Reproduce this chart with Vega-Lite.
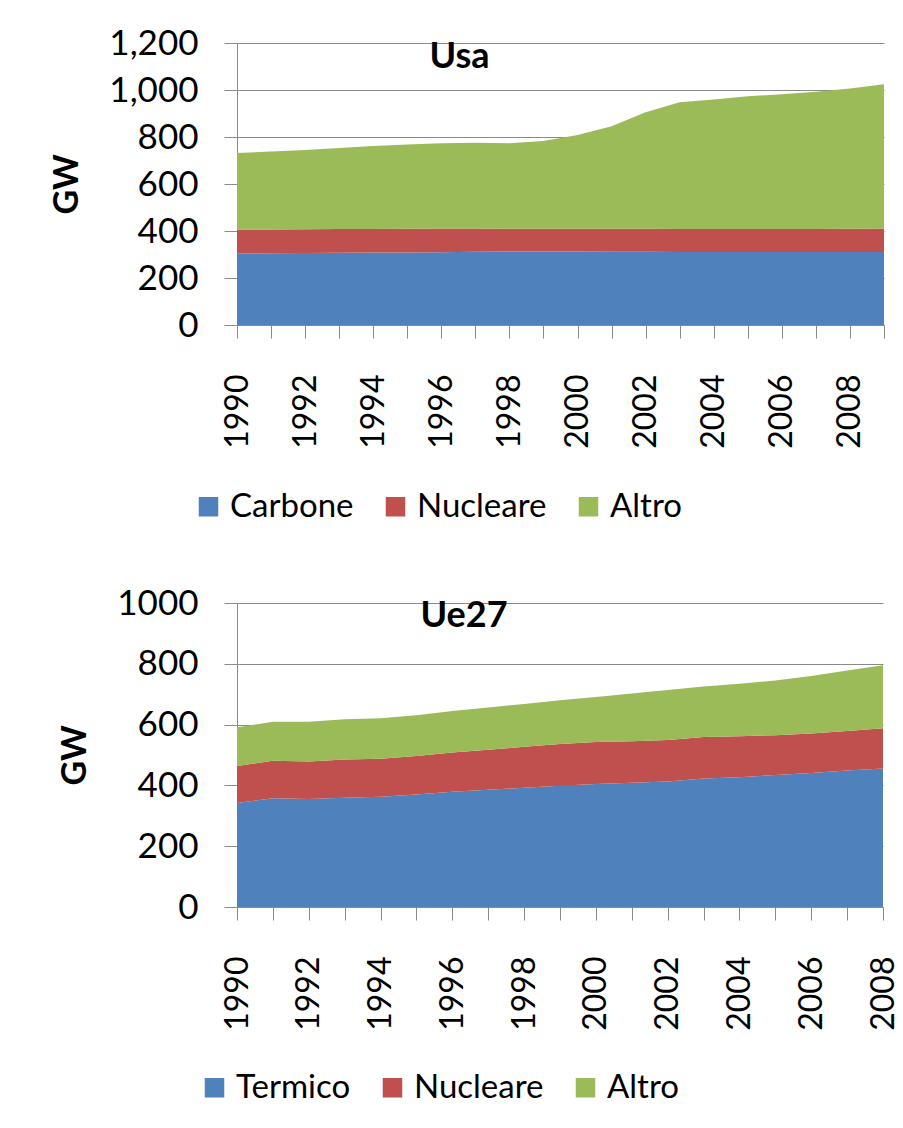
{
  "$schema": "https://vega.github.io/schema/vega-lite/v6.json",
  "background": "white",
  "padding": {"left": 50, "top": 26, "right": 15, "bottom": 5},
  "config": {
    "font": "Lato",
    "view": {"stroke": null},
    "axis": {
      "labelFont": "Lato", "labelFontSize": 35, "labelColor": "#000000",
      "domainColor": "#8a8a8a", "tickColor": "#8a8a8a", "gridColor": "#8a8a8a",
      "tickSize": 13, "labelPadding": 26,
      "titleFont": "Lato", "titleFontSize": 34, "titleFontWeight": "bold", "titleColor": "#000000"
    },
    "legend": {
      "labelFont": "Lato", "labelFontSize": 33, "labelColor": "#000000",
      "symbolType": "square", "symbolSize": 380, "symbolStrokeWidth": 0,
      "labelOffset": 5, "columnPadding": 25, "padding": 0, "title": null
    },
    "title": {"font": "Lato", "fontSize": 36, "fontWeight": "bold", "color": "#000000"}
  },
  "datasets": {
    "usa": [
      {"year": 1990, "source": "Carbone", "ord": 1, "gw": 304}, {"year": 1990, "source": "Nucleare", "ord": 2, "gw": 101}, {"year": 1990, "source": "Altro", "ord": 3, "gw": 327},
      {"year": 1991, "source": "Carbone", "ord": 1, "gw": 305}, {"year": 1991, "source": "Nucleare", "ord": 2, "gw": 101}, {"year": 1991, "source": "Altro", "ord": 3, "gw": 332},
      {"year": 1992, "source": "Carbone", "ord": 1, "gw": 306}, {"year": 1992, "source": "Nucleare", "ord": 2, "gw": 101}, {"year": 1992, "source": "Altro", "ord": 3, "gw": 338},
      {"year": 1993, "source": "Carbone", "ord": 1, "gw": 307}, {"year": 1993, "source": "Nucleare", "ord": 2, "gw": 101}, {"year": 1993, "source": "Altro", "ord": 3, "gw": 345},
      {"year": 1994, "source": "Carbone", "ord": 1, "gw": 308}, {"year": 1994, "source": "Nucleare", "ord": 2, "gw": 101}, {"year": 1994, "source": "Altro", "ord": 3, "gw": 353},
      {"year": 1995, "source": "Carbone", "ord": 1, "gw": 309}, {"year": 1995, "source": "Nucleare", "ord": 2, "gw": 101}, {"year": 1995, "source": "Altro", "ord": 3, "gw": 358},
      {"year": 1996, "source": "Carbone", "ord": 1, "gw": 310}, {"year": 1996, "source": "Nucleare", "ord": 2, "gw": 101}, {"year": 1996, "source": "Altro", "ord": 3, "gw": 362},
      {"year": 1997, "source": "Carbone", "ord": 1, "gw": 312}, {"year": 1997, "source": "Nucleare", "ord": 2, "gw": 99}, {"year": 1997, "source": "Altro", "ord": 3, "gw": 365},
      {"year": 1998, "source": "Carbone", "ord": 1, "gw": 313}, {"year": 1998, "source": "Nucleare", "ord": 2, "gw": 97}, {"year": 1998, "source": "Altro", "ord": 3, "gw": 363},
      {"year": 1999, "source": "Carbone", "ord": 1, "gw": 313}, {"year": 1999, "source": "Nucleare", "ord": 2, "gw": 97}, {"year": 1999, "source": "Altro", "ord": 3, "gw": 373},
      {"year": 2000, "source": "Carbone", "ord": 1, "gw": 313}, {"year": 2000, "source": "Nucleare", "ord": 2, "gw": 97}, {"year": 2000, "source": "Altro", "ord": 3, "gw": 399},
      {"year": 2001, "source": "Carbone", "ord": 1, "gw": 312}, {"year": 2001, "source": "Nucleare", "ord": 2, "gw": 98}, {"year": 2001, "source": "Altro", "ord": 3, "gw": 436},
      {"year": 2002, "source": "Carbone", "ord": 1, "gw": 312}, {"year": 2002, "source": "Nucleare", "ord": 2, "gw": 98}, {"year": 2002, "source": "Altro", "ord": 3, "gw": 495},
      {"year": 2003, "source": "Carbone", "ord": 1, "gw": 311}, {"year": 2003, "source": "Nucleare", "ord": 2, "gw": 98}, {"year": 2003, "source": "Altro", "ord": 3, "gw": 539},
      {"year": 2004, "source": "Carbone", "ord": 1, "gw": 311}, {"year": 2004, "source": "Nucleare", "ord": 2, "gw": 98}, {"year": 2004, "source": "Altro", "ord": 3, "gw": 551},
      {"year": 2005, "source": "Carbone", "ord": 1, "gw": 311}, {"year": 2005, "source": "Nucleare", "ord": 2, "gw": 98}, {"year": 2005, "source": "Altro", "ord": 3, "gw": 564},
      {"year": 2006, "source": "Carbone", "ord": 1, "gw": 311}, {"year": 2006, "source": "Nucleare", "ord": 2, "gw": 98}, {"year": 2006, "source": "Altro", "ord": 3, "gw": 573},
      {"year": 2007, "source": "Carbone", "ord": 1, "gw": 311}, {"year": 2007, "source": "Nucleare", "ord": 2, "gw": 98}, {"year": 2007, "source": "Altro", "ord": 3, "gw": 584},
      {"year": 2008, "source": "Carbone", "ord": 1, "gw": 311}, {"year": 2008, "source": "Nucleare", "ord": 2, "gw": 99}, {"year": 2008, "source": "Altro", "ord": 3, "gw": 596},
      {"year": 2009, "source": "Carbone", "ord": 1, "gw": 311}, {"year": 2009, "source": "Nucleare", "ord": 2, "gw": 100}, {"year": 2009, "source": "Altro", "ord": 3, "gw": 613}
    ],
    "eu": [
      {"year": 1990, "source": "Termico", "ord": 1, "gw": 342}, {"year": 1990, "source": "Nucleare", "ord": 2, "gw": 122}, {"year": 1990, "source": "Altro", "ord": 3, "gw": 127},
      {"year": 1991, "source": "Termico", "ord": 1, "gw": 358}, {"year": 1991, "source": "Nucleare", "ord": 2, "gw": 123}, {"year": 1991, "source": "Altro", "ord": 3, "gw": 128},
      {"year": 1992, "source": "Termico", "ord": 1, "gw": 355}, {"year": 1992, "source": "Nucleare", "ord": 2, "gw": 124}, {"year": 1992, "source": "Altro", "ord": 3, "gw": 130},
      {"year": 1993, "source": "Termico", "ord": 1, "gw": 359}, {"year": 1993, "source": "Nucleare", "ord": 2, "gw": 126}, {"year": 1993, "source": "Altro", "ord": 3, "gw": 133},
      {"year": 1994, "source": "Termico", "ord": 1, "gw": 363}, {"year": 1994, "source": "Nucleare", "ord": 2, "gw": 125}, {"year": 1994, "source": "Altro", "ord": 3, "gw": 133},
      {"year": 1995, "source": "Termico", "ord": 1, "gw": 370}, {"year": 1995, "source": "Nucleare", "ord": 2, "gw": 127}, {"year": 1995, "source": "Altro", "ord": 3, "gw": 134},
      {"year": 1996, "source": "Termico", "ord": 1, "gw": 379}, {"year": 1996, "source": "Nucleare", "ord": 2, "gw": 129}, {"year": 1996, "source": "Altro", "ord": 3, "gw": 137},
      {"year": 1997, "source": "Termico", "ord": 1, "gw": 386}, {"year": 1997, "source": "Nucleare", "ord": 2, "gw": 131}, {"year": 1997, "source": "Altro", "ord": 3, "gw": 139},
      {"year": 1998, "source": "Termico", "ord": 1, "gw": 392}, {"year": 1998, "source": "Nucleare", "ord": 2, "gw": 135}, {"year": 1998, "source": "Altro", "ord": 3, "gw": 141},
      {"year": 1999, "source": "Termico", "ord": 1, "gw": 399}, {"year": 1999, "source": "Nucleare", "ord": 2, "gw": 137}, {"year": 1999, "source": "Altro", "ord": 3, "gw": 144},
      {"year": 2000, "source": "Termico", "ord": 1, "gw": 405}, {"year": 2000, "source": "Nucleare", "ord": 2, "gw": 138}, {"year": 2000, "source": "Altro", "ord": 3, "gw": 148},
      {"year": 2001, "source": "Termico", "ord": 1, "gw": 409}, {"year": 2001, "source": "Nucleare", "ord": 2, "gw": 136}, {"year": 2001, "source": "Altro", "ord": 3, "gw": 157},
      {"year": 2002, "source": "Termico", "ord": 1, "gw": 413}, {"year": 2002, "source": "Nucleare", "ord": 2, "gw": 136}, {"year": 2002, "source": "Altro", "ord": 3, "gw": 165},
      {"year": 2003, "source": "Termico", "ord": 1, "gw": 423}, {"year": 2003, "source": "Nucleare", "ord": 2, "gw": 136}, {"year": 2003, "source": "Altro", "ord": 3, "gw": 166},
      {"year": 2004, "source": "Termico", "ord": 1, "gw": 427}, {"year": 2004, "source": "Nucleare", "ord": 2, "gw": 135}, {"year": 2004, "source": "Altro", "ord": 3, "gw": 172},
      {"year": 2005, "source": "Termico", "ord": 1, "gw": 434}, {"year": 2005, "source": "Nucleare", "ord": 2, "gw": 131}, {"year": 2005, "source": "Altro", "ord": 3, "gw": 180},
      {"year": 2006, "source": "Termico", "ord": 1, "gw": 441}, {"year": 2006, "source": "Nucleare", "ord": 2, "gw": 130}, {"year": 2006, "source": "Altro", "ord": 3, "gw": 189},
      {"year": 2007, "source": "Termico", "ord": 1, "gw": 449}, {"year": 2007, "source": "Nucleare", "ord": 2, "gw": 130}, {"year": 2007, "source": "Altro", "ord": 3, "gw": 199},
      {"year": 2008, "source": "Termico", "ord": 1, "gw": 456}, {"year": 2008, "source": "Nucleare", "ord": 2, "gw": 132}, {"year": 2008, "source": "Altro", "ord": 3, "gw": 207}
    ]
  },
  "spacing": 62,
  "resolve": {"scale": {"color": "independent", "x": "independent", "y": "independent"}, "legend": {"color": "independent"}},
  "vconcat": [
    {
      "data": {"name": "usa"},
      "width": 647,
      "height": 282,
      "title": {"text": "Usa", "anchor": "middle", "frame": "group", "dx": -101, "offset": -50},
      "mark": {"type": "area", "interpolate": "linear"},
      "encoding": {
        "x": {
          "field": "year", "type": "quantitative",
          "scale": {"domain": [1990, 2009], "nice": false, "zero": false},
          "axis": {
            "title": null, "grid": false, "labelAngle": -90, "labelAlign": "right", "labelBaseline": "middle",
            "labelFlush": false, "labelOverlap": false, "labelFontSize": 32, "labelPadding": 36,
            "values": [1990, 1991, 1992, 1993, 1994, 1995, 1996, 1997, 1998, 1999, 2000, 2001, 2002, 2003, 2004, 2005, 2006, 2007, 2008, 2009],
            "labelExpr": "datum.value % 2 === 0 ? '' + datum.value : ''"
          }
        },
        "y": {
          "field": "gw", "type": "quantitative", "stack": "zero",
          "scale": {"domain": [0, 1200], "nice": false},
          "axis": {"title": "GW", "titlePadding": 24, "grid": true, "format": ",d", "values": [0, 200, 400, 600, 800, 1000, 1200]}
        },
        "color": {
          "field": "source", "type": "nominal",
          "scale": {"domain": ["Carbone", "Nucleare", "Altro"], "range": ["#4F81BD", "#C0504D", "#9BBB59"]},
          "legend": {"orient": "none", "direction": "horizontal", "legendX": -45, "legendY": 447}
        },
        "order": {"field": "ord", "type": "quantitative"}
      }
    },
    {
      "data": {"name": "eu"},
      "width": 646,
      "height": 304,
      "title": {"text": "Ue27", "anchor": "middle", "frame": "group", "dx": -96, "offset": -49},
      "mark": {"type": "area", "interpolate": "linear"},
      "encoding": {
        "x": {
          "field": "year", "type": "quantitative",
          "scale": {"domain": [1990, 2008], "nice": false, "zero": false},
          "axis": {
            "title": null, "grid": false, "labelAngle": -90, "labelAlign": "right", "labelBaseline": "middle",
            "labelFlush": false, "labelOverlap": false, "labelFontSize": 32, "labelPadding": 36,
            "values": [1990, 1991, 1992, 1993, 1994, 1995, 1996, 1997, 1998, 1999, 2000, 2001, 2002, 2003, 2004, 2005, 2006, 2007, 2008],
            "labelExpr": "datum.value % 2 === 0 ? '' + datum.value : ''"
          }
        },
        "y": {
          "field": "gw", "type": "quantitative", "stack": "zero",
          "scale": {"domain": [0, 1000], "nice": false},
          "axis": {"title": "GW", "titlePadding": 24, "grid": true, "format": "d", "values": [0, 200, 400, 600, 800, 1000]}
        },
        "color": {
          "field": "source", "type": "nominal",
          "scale": {"domain": ["Termico", "Nucleare", "Altro"], "range": ["#4F81BD", "#C0504D", "#9BBB59"]},
          "legend": {"orient": "none", "direction": "horizontal", "legendX": -39, "legendY": 468}
        },
        "order": {"field": "ord", "type": "quantitative"}
      }
    }
  ]
}
